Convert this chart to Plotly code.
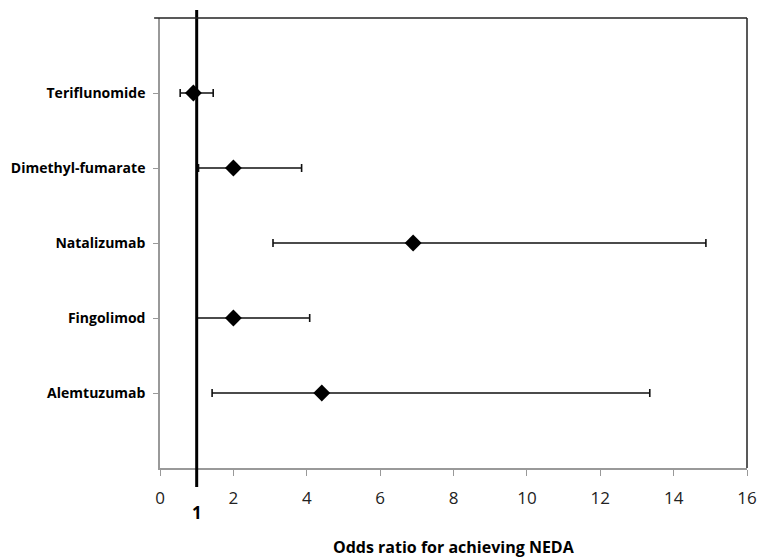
import plotly.graph_objects as go

# drugs from top to bottom, odds ratios with 95% CI
drugs = ['Teriflunomide', 'Dimethyl-fumarate', 'Natalizumab', 'Fingolimod', 'Alemtuzumab']
odds_ratio = [0.91, 2.0, 6.9, 2.0, 4.41]
ci_low = [0.55, 1.05, 3.08, 1.01, 1.42]
ci_high = [1.45, 3.86, 14.88, 4.08, 13.35]
x_ticks = [0, 2, 4, 6, 8, 10, 12, 14, 16]

# row positions, top row highest
rows = list(range(len(drugs), 0, -1))

err_plus = [h - o for h, o in zip(ci_high, odds_ratio)]
err_minus = [o - l for o, l in zip(odds_ratio, ci_low)]

fig = go.Figure()

fig.add_trace(go.Scatter(
    x=odds_ratio,
    y=rows,
    mode='markers',
    marker=dict(symbol='diamond', size=13, color='black'),
    error_x=dict(type='data', array=err_plus, arrayminus=err_minus,
                 color='#111111', thickness=1.6, width=4),
    showlegend=False,
))

# reference line at OR = 1, running past the plot frame
fig.add_shape(type='line', xref='x', yref='paper',
              x0=1, x1=1, y0=-0.042, y1=1.018,
              line=dict(color='black', width=3))

# top and right frame in black
fig.add_shape(type='line', xref='paper', yref='paper',
              x0=-0.01, x1=1, y0=1, y1=1, line=dict(color='#222222', width=1.5))
fig.add_shape(type='line', xref='paper', yref='paper',
              x0=1, x1=1, y0=0, y1=1, line=dict(color='#222222', width=1.5))

fig.add_annotation(x=1, xref='x', y=-0.098, yref='paper', text='<b>1</b>',
                   showarrow=False, yanchor='middle',
                   font=dict(size=17, color='black'))

fig.add_annotation(x=0.5, xref='paper', y=-0.176, yref='paper',
                   text='<b>Odds ratio for achieving NEDA</b>',
                   showarrow=False, yanchor='middle',
                   font=dict(size=16, color='black'))

# page body adds an 8px offset, so the figure is sized to fit the window
fig.update_layout(
    width=757,
    height=551,
    margin=dict(l=152, r=18, t=10, b=91),
    paper_bgcolor='white',
    plot_bgcolor='white',
    font=dict(family='Open Sans, Liberation Sans, sans-serif', color='black'),
    xaxis=dict(
        range=[0, 16],
        tickvals=x_ticks,
        ticktext=[str(t) for t in x_ticks],
        showgrid=False,
        zeroline=False,
        showline=True,
        linecolor='#999999',
        linewidth=1.5,
        ticks='outside',
        ticklen=6,
        tickcolor='#999999',
        tickfont=dict(size=17, color='#222222'),
        ticklabelstandoff=8,
        automargin=False,
    ),
    yaxis=dict(
        range=[0, 6],
        tickvals=rows,
        ticktext=['<b>%s</b>' % d for d in drugs],
        showgrid=False,
        zeroline=False,
        showline=True,
        linecolor='#999999',
        linewidth=1.5,
        ticks='outside',
        ticklen=5,
        tickcolor='#999999',
        tickfont=dict(size=14, color='black'),
        ticklabelstandoff=5,
        automargin=False,
    ),
)

fig.write_html("out.html")
